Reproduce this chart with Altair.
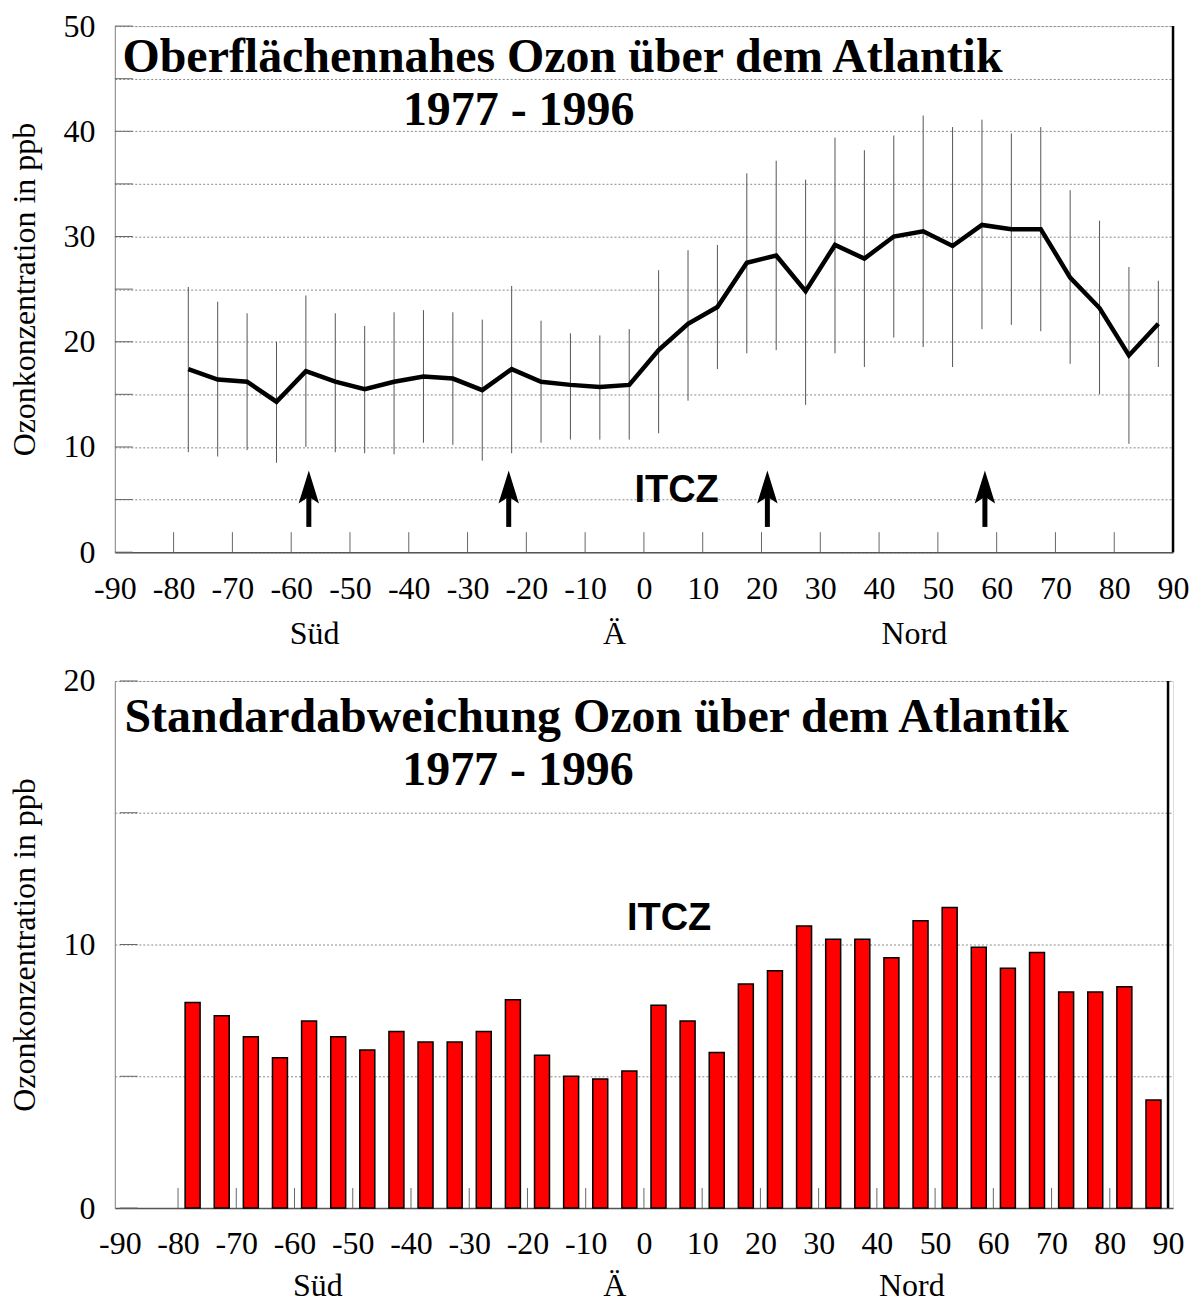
import altair as alt
import pandas as pd

# ---------------- data ----------------
lat = [-77.5, -72.5, -67.5, -62.5, -57.5, -52.5, -47.5, -42.5, -37.5, -32.5,
       -27.5, -22.5, -17.5, -12.5, -7.5, -2.5, 2.5, 7.5, 12.5, 17.5,
       22.5, 27.5, 32.5, 37.5, 42.5, 47.5, 52.5, 57.5, 62.5, 67.5,
       72.5, 77.5, 82.5, 87.5]
mean_o3 = [17.4, 16.4, 16.2, 14.3, 17.2, 16.2, 15.5, 16.2, 16.7, 16.5,
           15.4, 17.4, 16.2, 15.9, 15.7, 15.9, 19.2, 21.7, 23.3, 27.5,
           28.2, 24.8, 29.2, 27.9, 30.0, 30.5, 29.1, 31.1, 30.7, 30.7,
           26.1, 23.2, 18.7, 21.7]
err_high = [25.2, 23.8, 22.7, 20.0, 24.4, 22.7, 21.5, 22.8, 23.0, 22.8,
            22.1, 25.3, 22.0, 20.8, 20.6, 21.2, 26.8, 28.7, 29.2, 36.0,
            37.2, 35.4, 39.4, 38.2, 39.6, 41.5, 40.4, 41.1, 39.8, 40.4,
            34.4, 31.5, 27.1, 25.8]
err_low = [9.5, 9.1, 9.7, 8.5, 10.0, 9.5, 9.4, 9.3, 10.4, 10.2,
           8.7, 9.4, 10.4, 10.7, 10.7, 10.7, 11.3, 14.4, 17.4, 18.9,
           19.2, 14.0, 18.9, 17.6, 20.4, 19.5, 17.6, 21.2, 21.6, 21.0,
           17.9, 15.0, 10.3, 17.6]
std_o3 = [7.8, 7.3, 6.5, 5.7, 7.1, 6.5, 6.0, 6.7, 6.3, 6.3,
          6.7, 7.9, 5.8, 5.0, 4.9, 5.2, 7.7, 7.1, 5.9, 8.5,
          9.0, 10.7, 10.2, 10.2, 9.5, 10.9, 11.4, 9.9, 9.1, 9.7,
          8.2, 8.2, 8.4, 4.1]

x_ticks = [-90, -80, -70, -60, -50, -40, -30, -20, -10, 0, 10, 20, 30, 40, 50, 60, 70, 80, 90]
y_ticks_top = [0, 5, 10, 15, 20, 25, 30, 35, 40, 45, 50]
y_ticks_bot = [0, 5, 10, 15, 20]
arrow_lat = [-57, -23, 21, 58]
region_names = ["Süd", "Ä", "Nord"]
region_lat = [-56, -5, 46]

title_top = "Oberflächennahes Ozon über dem Atlantik"
title_bot = "Standardabweichung Ozon über dem Atlantik"
years = "1977 - 1996"
itcz = "ITCZ"
ytitle = "Ozonkonzentration in ppb"

SERIF = "Liberation Serif"
SANS = "Liberation Sans"
W = 1060
H_TOP = 527
H_BOT = 528

df = pd.DataFrame({"lat": lat, "mean": mean_o3, "lo": err_low, "hi": err_high, "sd": std_o3})

X_AXIS = alt.Axis(values=x_ticks, ticks=False, grid=False, labelFont=SERIF,
                  labelFontSize=32, labelColor="black", labelPadding=21,
                  labelExpr="'' + datum.value", labelFlush=False,
                  domainColor="#555555", domainWidth=1.5, title=None,
                  labelOverlap=False)
X_SCALE = alt.Scale(domain=[-90, 90], nice=False, zero=False)


def xenc(field="lat:Q"):
    return alt.X(field, scale=X_SCALE, axis=X_AXIS)


def make_y(vals, h, top):
    ax = alt.Axis(values=vals, labelExpr="datum.value % 10 === 0 ? '' + datum.value : ''",
                  ticks=False, grid=True, gridDash=[2, 2], gridColor="#888888",
                  domainColor="#888888", labelFont=SERIF, labelFontSize=32,
                  labelColor="black", labelPadding=20, title=ytitle,
                  titleFont=SERIF, titleFontSize=32, titleFontWeight="normal",
                  titleColor="black", titleX=-90, titleY=h / 2, titleAngle=270,
                  titleAlign="center", titleBaseline="middle", labelOverlap=False,
                  labelFlush=False)
    sc = alt.Scale(domain=[0, top], nice=False, zero=True)

    def yenc(field):
        return alt.Y(field, scale=sc, axis=ax)
    return yenc


def frame_layers(yenc, ytop, yvals, xtick_len):
    # inward tick marks + right border
    yt = pd.DataFrame({"lat": [-90] * len(yvals), "lat2": [-90 + 18 * 180 / W] * len(yvals),
                       "v": yvals})
    ytick = alt.Chart(yt).mark_rule(color="#666666", strokeWidth=1).encode(
        x=xenc(), x2="lat2:Q", y=yenc("v:Q"))
    xt_vals = [v for v in x_ticks if -90 < v < 90]
    xt = pd.DataFrame({"lat": xt_vals, "v": [0] * len(xt_vals),
                       "v2": [xtick_len] * len(xt_vals)})
    xtick = alt.Chart(xt).mark_rule(color="#666666", strokeWidth=1).encode(
        x=xenc(), y=yenc("v:Q"), y2="v2:Q")
    border = alt.Chart(pd.DataFrame({"lat": [90], "v": [0], "v2": [ytop]})).mark_rule(
        color="black", strokeWidth=2.5).encode(x=xenc(), y=yenc("v:Q"), y2="v2:Q")
    return [ytick, xtick, border]


def text_layer(yenc, data, **kw):
    return alt.Chart(pd.DataFrame(data)).mark_text(**kw).encode(
        x=xenc(), y=yenc("v:Q"), text="t:N")


# ---------------- top chart ----------------
ytop = make_y(y_ticks_top, H_TOP, 50)
base_top = alt.Chart(df)
errs = base_top.mark_rule(color="#555555", strokeWidth=1).encode(
    x=xenc(), y=ytop("lo:Q"), y2="hi:Q")
line = base_top.mark_line(color="black", strokeWidth=4.5, strokeJoin="miter").encode(
    x=xenc(), y=ytop("mean:Q"))

arr = pd.DataFrame({"lat": arrow_lat, "v": [2.4] * 4, "v2": [5.4] * 4, "h": [6.2] * 4})
arrow_shaft = alt.Chart(arr).mark_rule(color="black", strokeWidth=5).encode(
    x=xenc(), y=ytop("v:Q"), y2="v2:Q")
arrow_head = alt.Chart(arr).mark_point(
    shape="M0,-1L0.62,1L0,0.6L-0.62,1Z", size=1089, filled=True, color="black",
    opacity=1).encode(x=xenc(), y=ytop("h:Q"))

t1 = text_layer(ytop, {"lat": [-88.7], "v": [45.6], "t": [title_top]}, font=SERIF,
                fontSize=48, fontWeight="bold", align="left", baseline="alphabetic",
                color="black")
t2 = text_layer(ytop, {"lat": [-41.0], "v": [40.6], "t": [years]}, font=SERIF,
                fontSize=48, fontWeight="bold", align="left", baseline="alphabetic",
                color="black")
t3 = text_layer(ytop, {"lat": [-1.6], "v": [5.8], "t": [itcz]}, font=SANS,
                fontSize=38, fontWeight="bold", align="left", baseline="middle",
                color="black")
t4 = text_layer(ytop, {"lat": region_lat, "v": [-7.8] * 3, "t": region_names}, font=SERIF,
                fontSize=32, align="center", baseline="middle", color="black")

top = alt.layer(*frame_layers(ytop, 50, y_ticks_top, 1.9), errs, line,
                arrow_shaft, arrow_head, t1, t2, t3, t4).properties(width=W, height=H_TOP)

# ---------------- bottom chart ----------------
ybot = make_y(y_ticks_bot, H_BOT, 20)
base_bot = alt.Chart(df)
bars = base_bot.mark_bar(size=15, color="#FF0000", stroke="black", strokeWidth=1.5).encode(
    x=xenc(), y=ybot("sd:Q"))
b1 = text_layer(ybot, {"lat": [-89.2], "v": [18.07], "t": [title_bot]}, font=SERIF,
                fontSize=48, fontWeight="bold", align="left", baseline="alphabetic",
                color="black")
b2 = text_layer(ybot, {"lat": [-41.5], "v": [16.07], "t": [years]}, font=SERIF,
                fontSize=48, fontWeight="bold", align="left", baseline="alphabetic",
                color="black")
b3 = text_layer(ybot, {"lat": [-2.9], "v": [10.96], "t": [itcz]}, font=SANS,
                fontSize=38, fontWeight="bold", align="left", baseline="middle",
                color="black")
b4 = text_layer(ybot, {"lat": region_lat, "v": [-2.95] * 3, "t": region_names}, font=SERIF,
                fontSize=32, align="center", baseline="middle", color="black")

bottom = alt.layer(*frame_layers(ybot, 20, y_ticks_bot, 0.76), bars, b1, b2, b3, b4
                   ).properties(width=W, height=H_BOT)

chart = alt.vconcat(top, bottom, spacing=129, bounds="flush").properties(
    padding={"left": 0, "top": 0, "right": 0, "bottom": 0}
).configure_view(stroke=None).configure(background="white")

chart.save("out.html", embed_options={"renderer": "svg", "actions": False})
